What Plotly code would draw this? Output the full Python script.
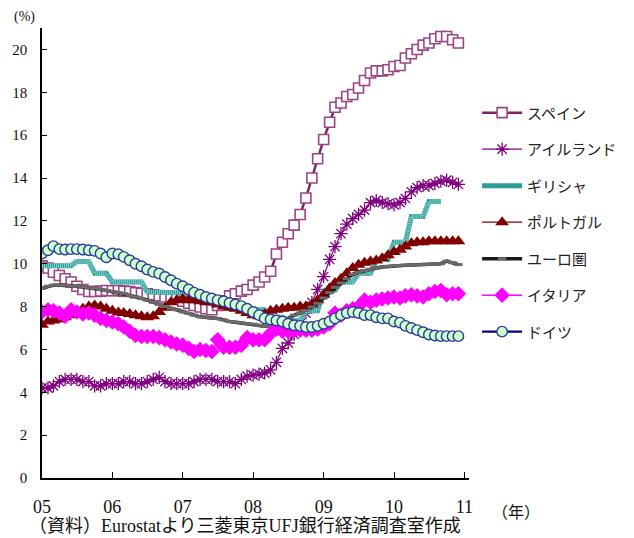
import plotly.graph_objects as go
import pandas as pd

months = pd.date_range("2005-01-01", periods=72, freq="MS")

spain = [9.9, 9.8, 9.6, 9.45, 9.3, 9.15, 8.95, 8.8, 8.7, 8.7, 8.72, 8.75,
         8.74, 8.75, 8.72, 8.7, 8.65, 8.62, 8.6, 8.55, 8.5, 8.45, 8.42, 8.35,
         8.25, 8.15, 8.05, 7.98, 7.9, 7.85, 8.05, 8.27, 8.5, 8.6, 8.72, 8.8,
         9.0, 9.15, 9.38, 9.65, 10.45, 11.0, 11.4, 11.8, 12.3, 13.07, 14.0, 14.9,
         15.8, 16.6, 17.3, 17.5, 17.8, 17.9, 18.2, 18.55, 18.9, 19.0, 19.0, 19.05,
         19.2, 19.25, 19.6, 19.8, 20.0, 20.2, 20.3, 20.5, 20.6, 20.6, 20.45, 20.3]

ireland = [4.2, 4.2, 4.3, 4.5, 4.6, 4.6, 4.6, 4.5, 4.5, 4.3, 4.3, 4.4,
           4.4, 4.4, 4.5, 4.5, 4.4, 4.4, 4.5, 4.6, 4.7, 4.5, 4.4, 4.4,
           4.4, 4.4, 4.5, 4.6, 4.6, 4.6, 4.5, 4.5, 4.5, 4.4, 4.6, 4.75,
           4.8, 4.85, 4.9, 5.05, 5.4, 6.05, 6.3, 6.7, 7.2, 7.7, 8.2, 8.8,
           9.4, 10.2, 10.8, 11.4, 11.85, 12.1, 12.3, 12.5, 12.85, 12.95, 12.85, 12.8,
           12.75, 12.85, 13.05, 13.35, 13.55, 13.65, 13.65, 13.75, 13.85, 13.9, 13.8, 13.7]

greece = [9.9, 9.9, 9.9, 9.9, 9.9, 9.9, 10.1, 10.1, 10.1, 9.55, 9.55, 9.55,
          9.15, 9.15, 9.15, 9.15, 9.15, 9.15, 8.68, 8.68, 8.68, 8.65, 8.65, 8.65,
          8.6, 8.6, 8.6, 8.4, 8.4, 8.4, 8.2, 8.2, 8.2, 8.05, 8.05, 8.05,
          7.85, 7.85, 7.85, 7.5, 7.5, 7.5, 7.35, 7.35, 7.35, 7.8, 7.8, 7.8,
          8.75, 8.75, 8.75, 9.15, 9.15, 9.15, 9.55, 9.55, 9.55, 10.2, 10.2, 10.2,
          11.0, 11.0, 11.0, 12.2, 12.2, 12.2, 12.9, 12.9, 12.9, None, None, None]

portugal = [7.15, 7.3, 7.35, 7.4, 7.5, 7.6, 7.75, 7.9, 8.0, 8.05, 8.0, 7.9,
            7.8, 7.72, 7.7, 7.65, 7.6, 7.55, 7.5, 7.55, 7.75, 7.95, 8.2, 8.3,
            8.35, 8.3, 8.3, 8.25, 8.2, 8.2, 8.1, 8.0, 7.95, 7.9, 7.8, 7.7,
            7.6, 7.55, 7.65, 7.8, 7.85, 7.9, 7.95, 7.95, 8.0, 8.0, 8.1, 8.3,
            8.55, 8.85, 9.1, 9.3, 9.55, 9.8, 9.95, 10.05, 10.1, 10.15, 10.25, 10.4,
            10.55, 10.65, 10.8, 10.95, 11.0, 11.0, 11.05, 11.05, 11.05, 11.05, 11.05, 11.05]

euro = [8.85, 8.95, 9.0, 9.0, 9.0, 8.97, 8.95, 8.92, 8.88, 8.85, 8.8, 8.75,
        8.7, 8.65, 8.6, 8.52, 8.45, 8.38, 8.3, 8.2, 8.1, 8.0, 7.92, 7.85,
        7.75, 7.68, 7.6, 7.52, 7.5, 7.46, 7.44, 7.38, 7.3, 7.27, 7.24, 7.2,
        7.18, 7.12, 7.08, 7.08, 7.15, 7.3, 7.45, 7.6, 7.7, 7.82, 7.98, 8.15,
        8.4, 8.65, 8.9, 9.1, 9.3, 9.5, 9.6, 9.68, 9.74, 9.8, 9.85, 9.88,
        9.9, 9.92, 9.93, 9.94, 9.95, 9.96, 9.97, 9.98, 10.0, 10.12, 10.05, 9.96]

italy = [7.75, 7.85, 7.8, 7.7, 7.55, 7.85, 7.75, 7.65, 7.7, 7.6, 7.45, 7.35,
         7.28, 7.2, 7.05, 6.85, 6.65, 6.6, 6.6, 6.6, 6.55, 6.45, 6.35, 6.25,
         6.2, 6.05, 5.9, 6.0, 5.95, 5.9, 6.45, 6.1, 6.1, 6.1, 6.2, 6.55,
         6.45, 6.45, 6.45, 6.75, 6.95, 6.85, 6.85, 6.9, 6.9, 6.9, 6.9, 6.95,
         7.05, 7.2, 7.7, 7.6, 7.8, 7.9, 8.0, 8.3, 8.2, 8.3, 8.35, 8.4,
         8.45, 8.4, 8.5, 8.55, 8.5, 8.45, 8.6, 8.7, 8.75, 8.55, 8.6, 8.6]

germany = [10.48, 10.63, 10.82, 10.68, 10.66, 10.68, 10.68, 10.66, 10.63, 10.6, 10.48, 10.3,
           10.48, 10.44, 10.32, 10.16, 10.0, 9.88, 9.73, 9.62, 9.54, 9.38, 9.23, 9.07,
           8.95, 8.8, 8.65, 8.55, 8.45, 8.38, 8.3, 8.25, 8.17, 8.1, 8.02, 7.9,
           7.75, 7.6, 7.45, 7.4, 7.35, 7.3, 7.2, 7.13, 7.1, 7.05, 7.05, 7.1,
           7.2, 7.3, 7.45, 7.6, 7.7, 7.75, 7.7, 7.6, 7.6, 7.5, 7.45, 7.45,
           7.3, 7.25, 7.1, 7.0, 6.9, 6.8, 6.7, 6.65, 6.62, 6.62, 6.62, 6.62]

names = ["スペイン", "アイルランド", "ギリシャ", "ポルトガル", "ユーロ圏", "イタリア", "ドイツ"]
year_ticks = pd.date_range("2005-01-01", periods=7, freq="YS")
year_labels = ["05", "06", "07", "08", "09", "10", "11"]
y_ticks = list(range(0, 21, 2))

SERIF = "Liberation Serif, Times New Roman, Noto Sans CJK JP, serif"
JP = "Noto Sans CJK JP, sans-serif"
SRC = "Liberation Serif, Noto Sans CJK JP, serif"

fig = go.Figure()

fig.add_trace(go.Scatter(
    x=months, y=spain, name=names[0], mode="lines+markers", legendgroup="a",
    line=dict(color="#7A2466", width=2.5),
    marker=dict(symbol="square", size=10, color="white",
                line=dict(color="#9C4585", width=1.6))))

fig.add_trace(go.Scatter(
    x=months, y=ireland, name=names[1], mode="lines+markers", legendgroup="b",
    line=dict(color="#800080", width=1.2),
    marker=dict(symbol="asterisk-open", size=11,
                line=dict(color="#800080", width=1.3))))

fig.add_trace(go.Scatter(
    x=months, y=greece, name=names[2], mode="lines", legendgroup="c",
    line=dict(color="#2E9C98", width=5), connectgaps=False))
fig.add_trace(go.Scatter(
    x=months, y=greece, name=names[2], mode="lines", legendgroup="c",
    showlegend=False, hoverinfo="skip",
    line=dict(color="#7FCFCB", width=5, dash="1px,1px"), connectgaps=False))

fig.add_trace(go.Scatter(
    x=months, y=portugal, name=names[3], mode="lines+markers", legendgroup="d",
    line=dict(color="#800000", width=1.2),
    marker=dict(symbol="triangle-up", size=12, color="#800000",
                line=dict(color="#800000", width=0))))

fig.add_trace(go.Scatter(
    x=months, y=euro, name=names[4], mode="lines+markers", legendgroup="e",
    line=dict(color="#1A1A1A", width=3.5),
    marker=dict(symbol="line-ew", size=6,
                line=dict(color="#6A6A6A", width=3))))

fig.add_trace(go.Scatter(
    x=months, y=italy, name=names[5], mode="lines+markers", legendgroup="f",
    line=dict(color="#FF00FF", width=1.5),
    marker=dict(symbol="diamond", size=12, color="#FF00FF",
                line=dict(color="#FF00FF", width=0))))

fig.add_trace(go.Scatter(
    x=months, y=germany, name=names[6], mode="lines+markers", legendgroup="g",
    line=dict(color="#000080", width=2.2),
    marker=dict(symbol="circle", size=10.5, color="#CCFFCC",
                line=dict(color="#2E3A9A", width=1.4))))

fig.update_layout(
    width=634, height=538,
    margin=dict(l=42, r=163, t=28, b=60),
    paper_bgcolor="white", plot_bgcolor="white",
    font=dict(family=SERIF, size=15, color="#111"),
    legend=dict(x=1.019, xanchor="left", y=0.848, yanchor="top",
                font=dict(family=JP, size=15, color="#222"),
                tracegroupgap=14, itemwidth=40,
                bgcolor="rgba(0,0,0,0)"),
    showlegend=True,
)

fig.update_xaxes(
    type="date",
    range=["2005-01-01", "2011-01-25"],
    tickvals=year_ticks, ticktext=year_labels,
    ticks="inside", ticklen=6, tickcolor="black", tickwidth=1,
    showline=True, linecolor="black", linewidth=1.5,
    showgrid=False, zeroline=False,
    tickfont=dict(family=SERIF, size=18, color="#111"),
    ticklabelstandoff=12,
)
fig.update_yaxes(
    range=[0, 21],
    tickvals=y_ticks,
    ticks="inside", ticklen=5, tickcolor="black", tickwidth=1,
    showline=True, linecolor="black", linewidth=1.5,
    showgrid=False, zeroline=False,
    tickfont=dict(family=SERIF, size=15, color="#111"),
    ticklabelstandoff=10,
)

fig.add_annotation(text="(%)", xref="paper", yref="paper", x=-0.04, y=1.0,
                   xanchor="center", yanchor="bottom", yshift=1, showarrow=False,
                   font=dict(family=SERIF, size=14, color="#111"))
fig.add_annotation(text="（年）", xref="paper", yref="paper", x=1.11, y=0,
                   xanchor="center", yanchor="top", yshift=-19, showarrow=False,
                   font=dict(family=JP, size=16, color="#111"))
fig.add_annotation(text="（資料）Eurostatより三菱東京UFJ銀行経済調査室作成",
                   xref="paper", yref="paper", x=-0.035, y=0, xanchor="left",
                   yanchor="bottom", yshift=-60, showarrow=False,
                   font=dict(family=SRC, size=18, color="#111"))

fig.write_html("out.html")
